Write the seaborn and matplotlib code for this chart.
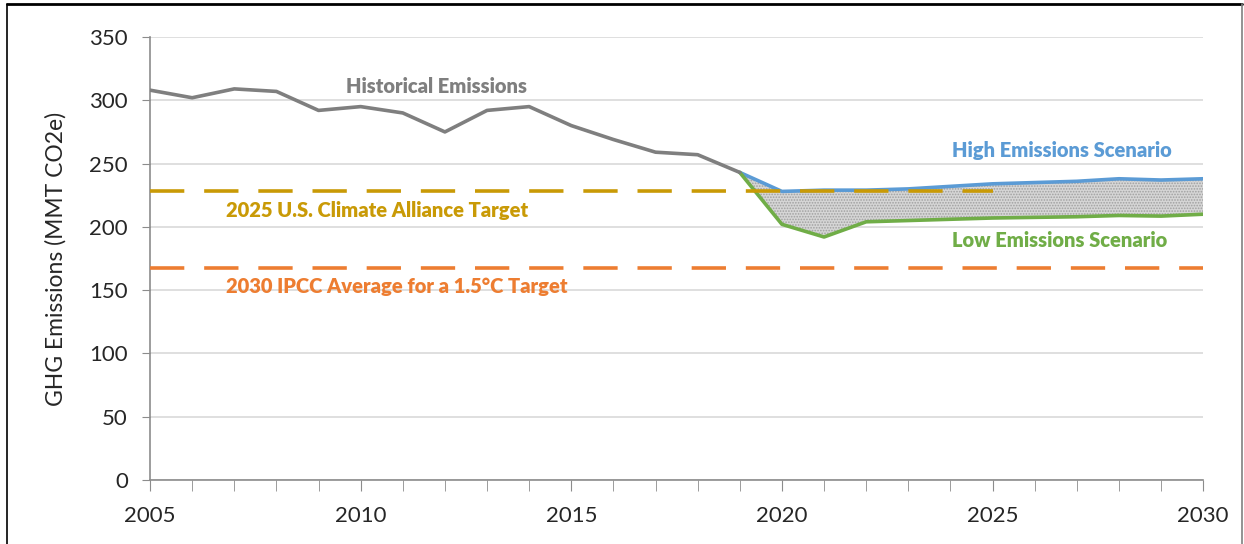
import matplotlib
matplotlib.use("Agg")
import matplotlib.pyplot as plt
import seaborn as sns
import pandas as pd
from matplotlib.ticker import MultipleLocator

# data
hist_years = list(range(2005, 2020))
hist_vals = [308, 302, 309, 307, 292, 295, 290, 275, 292, 295, 280, 269, 259, 257, 243]

scen_years = list(range(2019, 2031))
high_vals = [243, 228, 229, 229, 230, 232, 234, 235, 236, 238, 237, 238]
low_vals = [243, 202, 192, 204, 205, 206, 207, 207.5, 208, 209, 208.5, 210]

alliance_target = 228
alliance_years = [2005, 2025]
ipcc_target = 167.5
ipcc_years = [2005, 2030]

hist = pd.DataFrame({"Year": hist_years, "Emissions": hist_vals})
scen = pd.DataFrame({"Year": scen_years, "High": high_vals, "Low": low_vals})

sns.set_style("white")
plt.rcParams["font.family"] = ["Lato", "DejaVu Sans"]
plt.rcParams["hatch.color"] = "#8a8a8a"
plt.rcParams["hatch.linewidth"] = 0.8

fig = plt.figure(figsize=(12.44, 5.44), dpi=100)
ax = fig.add_axes([0.1206, 0.1176, 0.8466, 0.8144])

gold = "#c99a06"
orange = "#ed7d31"
blue = "#5b9bd5"
green = "#70ad47"
grey = "#7f7f7f"

ax.fill_between(scen["Year"], scen["Low"], scen["High"], facecolor="#d6d6d6",
                edgecolor="#a0a0a0", hatch="......", linewidth=0, zorder=2)

ax.plot(alliance_years, [alliance_target] * 2, color=gold, lw=2.6,
        dashes=(9.5, 5.5), zorder=4)
ax.plot(ipcc_years, [ipcc_target] * 2, color=orange, lw=2.6,
        dashes=(9.5, 5.5), zorder=4)

sns.lineplot(data=scen, x="Year", y="High", color=blue, lw=2.6, ax=ax, zorder=3)
sns.lineplot(data=scen, x="Year", y="Low", color=green, lw=2.6, ax=ax, zorder=3)
sns.lineplot(data=hist, x="Year", y="Emissions", color=grey, lw=2.6, ax=ax, zorder=5)

lab = dict(fontsize=14.5, fontweight="heavy", ha="center", va="center")
ax.text(2011.8, 311, "Historical Emissions", color=grey, **lab)
ax.text(2026.64, 260.5, "High Emissions Scenario", color=blue, **lab)
ax.text(2026.6, 189.5, "Low Emissions Scenario", color=green, **lab)
ax.text(2010.4, 213.3, "2025 U.S. Climate Alliance Target", color=gold, **lab)
ax.text(2010.85, 153, "2030 IPCC Average for a 1.5°C Target", color=orange, **lab)

ax.set_xlim(2005, 2030)
ax.set_ylim(0, 350)
ax.set_xticks([2005, 2010, 2015, 2020, 2025, 2030])
ax.xaxis.set_minor_locator(MultipleLocator(1))
ax.yaxis.set_major_locator(MultipleLocator(50))
ax.grid(axis="y", color="#d9d9d9", lw=1.2, zorder=0)
ax.set_axisbelow(True)

for s in ["top", "right"]:
    ax.spines[s].set_visible(False)
ax.spines["left"].set_color("#8c8c8c")
ax.spines["bottom"].set_color("#8c8c8c")
ax.spines["left"].set_linewidth(1.2)
ax.spines["bottom"].set_linewidth(1.2)

ax.tick_params(axis="y", which="major", direction="out", length=6, color="#8c8c8c",
               labelsize=16, pad=10, left=True)
ax.tick_params(axis="x", which="major", direction="out", length=8, color="#8c8c8c",
               labelsize=16, pad=11, bottom=True)
ax.tick_params(axis="x", which="minor", direction="out", length=8, color="#8c8c8c",
               bottom=True)

ax.set_xlabel("")
ax.set_ylabel("GHG Emissions (MMT CO2e)", fontsize=16.5, labelpad=16)

# frame around the figure
fig.add_artist(plt.Line2D([0.006, 0.006], [0.0, 0.993], color="black", lw=1.2))
fig.add_artist(plt.Line2D([0.006, 0.998], [0.993, 0.993], color="black", lw=2))
fig.add_artist(plt.Line2D([0.998, 0.998], [0.0, 0.993], color="#808080", lw=1.2))

fig.savefig("out.png", dpi=100)
